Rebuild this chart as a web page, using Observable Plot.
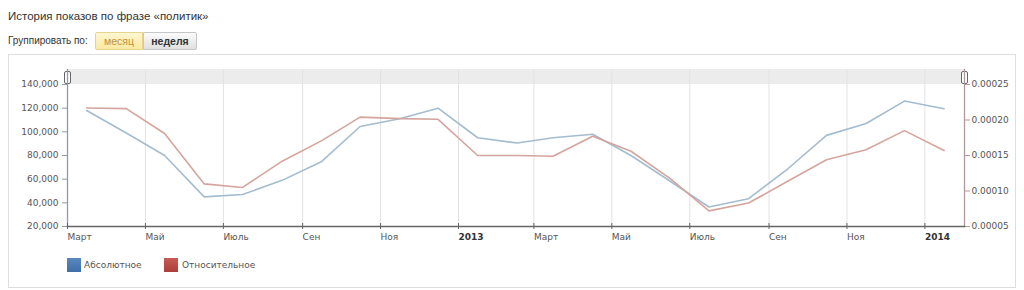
<!DOCTYPE html>
<html><head><meta charset="utf-8">
<script src="https://cdn.jsdelivr.net/npm/d3@7"></script>
<script src="https://cdn.jsdelivr.net/npm/@observablehq/plot@0.6"></script>
<style>
body{margin:0;background:#fff;width:1024px;height:290px;position:relative;overflow:hidden;font-family:"Liberation Sans",Arial,sans-serif;}
#title{position:absolute;left:8px;top:10px;font-size:11.5px;color:#333;white-space:nowrap;}
#group{position:absolute;left:8px;top:35px;font-size:10px;color:#333;white-space:nowrap;}
.btn{position:absolute;top:32px;height:18px;line-height:16px;font-size:10.5px;text-align:center;box-sizing:border-box;}
#b1{left:95px;width:48px;background:linear-gradient(#fff7d2,#fbe8a2);border:1px solid #e6d48e;color:#c39332;border-radius:2px 0 0 2px;}
#b2{left:143px;width:54px;background:linear-gradient(#fbfbfb,#e0e0e0);border:1px solid #c6c6c6;color:#333;font-weight:bold;border-radius:0 2px 2px 0;}
#box{position:absolute;left:8px;top:54px;width:1008px;height:234px;border:1px solid #dedede;box-sizing:border-box;}
#band{position:absolute;left:67px;top:69px;width:897px;height:15px;background:#ececec;}
.handle{position:absolute;top:71px;width:5px;height:11px;border:1px solid #666;background:#fff;border-radius:2px;box-sizing:content-box;}
#chart{position:absolute;left:0;top:55px;}
.sw{position:absolute;top:258px;width:14px;height:14px;}
.lt{position:absolute;top:259px;font-family:"DejaVu Sans",sans-serif;font-size:9px;color:#555;line-height:13px;}
</style></head>
<body>
<div id="title">История показов по фразе «политик»</div>
<div id="group">Группировать по:</div>
<div class="btn" id="b1">месяц</div>
<div class="btn" id="b2">неделя</div>
<div id="box"></div>
<div id="band"></div>
<div class="handle" style="left:64px"></div>
<div class="handle" style="left:961px"></div>
<div id="chart"></div>
<div class="sw" style="left:67px;background:linear-gradient(#5a88c0,#3f6ea8)"></div>
<div class="lt" id="l1" style="left:84px"></div>
<div class="sw" style="left:164px;background:linear-gradient(#c65a55,#ad3f3b)"></div>
<div class="lt" id="l2" style="left:182px"></div>
<script>
const months = ["2012-03","2012-04","2012-05","2012-06","2012-07","2012-08","2012-09","2012-10","2012-11","2012-12",
  "2013-01","2013-02","2013-03","2013-04","2013-05","2013-06","2013-07","2013-08","2013-09","2013-10","2013-11","2013-12","2014-01"];
const absolute = [118000, 99000, 80000, 45000, 47000, 59000, 75000, 104500, 111000, 120000,
  95000, 90500, 95000, 98000, 80000, 58000, 36500, 43500, 69000, 97000, 107000, 126000, 119500];
const relative = [0.000217, 0.000216, 0.000181, 0.000110, 0.000105, 0.000142, 0.000171, 0.000204, 0.000202, 0.000201,
  0.000150, 0.000150, 0.000149, 0.000177, 0.000156, 0.000117, 0.000072, 0.000083, 0.000114, 0.000144, 0.000158, 0.000185, 0.000157];
const leftTicks = [20000, 40000, 60000, 80000, 100000, 120000, 140000];
const rightTicks = [0.00005, 0.00010, 0.00015, 0.00020, 0.00025];
const monthNames = ["Янв","Фев","Март","Апр","Май","Июнь","Июль","Авг","Сен","Окт","Ноя","Дек"];
const seriesNames = ["Абсолютное","Относительное"];

document.getElementById("l1").textContent = seriesNames[0];
document.getElementById("l2").textContent = seriesNames[1];

const toLeft = d3.scaleLinear().domain([rightTicks[0], rightTicks[rightTicks.length-1]]).range([leftTicks[0], leftTicks[leftTicks.length-1]]);
const data = months.map((m, i) => {
  const [yy, mo] = m.split("-").map(Number);
  return {date: new Date(Date.UTC(yy, mo - 1, 16)), abs: absolute[i], rel: relative[i]};
});
const start = new Date(Date.UTC(2012, 2, 1));
const end = new Date(Date.UTC(2014, 1, 1));
const xTicks = d3.utcMonth.every(2).range(start, end);
const fmtX = d => d.getUTCMonth() === 0 ? String(d.getUTCFullYear()) : monthNames[d.getUTCMonth()];

const chart = Plot.plot({
  width: 1024, height: 200,
  marginTop: 14, marginBottom: 29, marginLeft: 67, marginRight: 60,
  style: {fontFamily: "DejaVu Sans, sans-serif", fontSize: "9px", color: "#555", background: "transparent", overflow: "visible"},
  x: {type: "utc", domain: [start, end]},
  y: {domain: [leftTicks[0], leftTicks[leftTicks.length-1]], insetTop: 15},
  marks: [
    Plot.gridX(xTicks, {stroke: "#e2e2e2", strokeOpacity: 1}),
    Plot.line(data, {x: "date", y: "abs", stroke: "#a4bccf", strokeWidth: 1.6}),
    Plot.line(data, {x: "date", y: d => toLeft(d.rel), stroke: "#d4a59d", strokeWidth: 1.6}),
    Plot.frame({anchor: "left", stroke: "#8d9cab", strokeWidth: 1.3}),
    Plot.frame({anchor: "right", stroke: "#b39898", strokeWidth: 1.3}),
    Plot.axisY({ticks: leftTicks, tickSize: 5, tickPadding: 4, stroke: "#8d9cab", label: null}),
    Plot.axisY({anchor: "right", ticks: rightTicks.map(toLeft), tickFormat: d => toLeft.invert(d).toFixed(5), tickSize: 5, tickPadding: 2, stroke: "#b39898", label: null}),
    Plot.frame({anchor: "bottom", stroke: "#666", strokeWidth: 1.5}),
    Plot.axisX({ticks: xTicks, tickSize: 6, dy: -3, text: null, stroke: "#666", label: null}),
    Plot.axisX({ticks: xTicks, tickSize: 0, tickPadding: 7, tickFormat: fmtX, textAnchor: "start", label: null})
  ]
});
chart.querySelectorAll("text").forEach(t => {
  if (/^\d{4}$/.test(t.textContent)) { t.setAttribute("font-weight", "bold"); t.setAttribute("fill", "#333"); }
});
document.getElementById("chart").appendChild(chart);
</script>
</body></html>
